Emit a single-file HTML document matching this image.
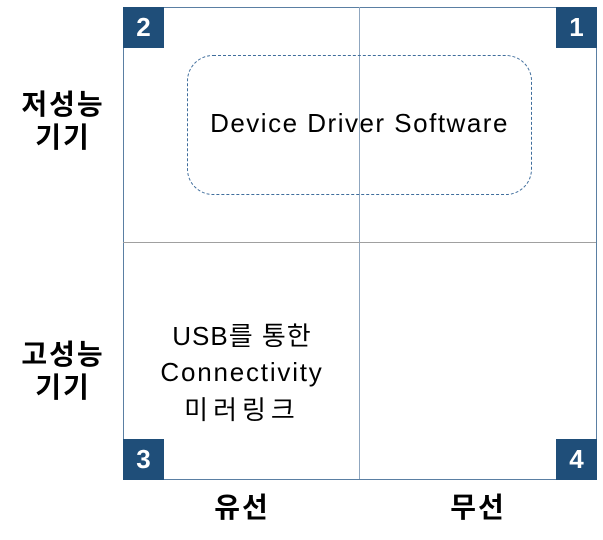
<!DOCTYPE html>
<html><head><meta charset="utf-8"><style>
body{margin:0;width:603px;height:540px;background:#fff;position:relative;overflow:hidden;font-family:"Liberation Sans","Noto Sans CJK KR",sans-serif}
.a{position:absolute}
.b{position:absolute;width:41px;height:41px;background:#1f4e79;color:#fff;font-weight:bold;font-size:26px;line-height:41px;text-align:center}
.t{position:absolute;font-size:26px;color:#000;text-align:center;white-space:nowrap}
.L{position:absolute;font-size:28px;font-weight:bold;text-align:center;line-height:33px;width:100px;letter-spacing:2px}
</style></head><body>
<div class="a" style="left:123px;top:7px;width:472px;height:471px;border:1px solid #5a7fa3"></div>
<div class="a" style="left:359px;top:7px;width:1px;height:472px;background:#8fa6bf"></div>
<div class="a" style="left:123px;top:242px;width:473px;height:1px;background:#a0a0a0"></div>
<div class="a" style="left:187px;top:55px;width:343px;height:138px;border:1px dashed #3f6d9c;border-radius:26px"></div>
<div class="t" style="left:187px;width:345px;top:106px;line-height:34px;letter-spacing:1.5px">Device Driver Software</div>
<div class="t" style="left:122px;width:240px;top:318px;line-height:36px"><span style="letter-spacing:1px">USB를 통한</span><br><span style="letter-spacing:1.8px">Connectivity</span><br><span style="line-height:40px;letter-spacing:5px">미러링크</span></div>
<div class="b" style="left:123px;top:7px">2</div>
<div class="b" style="left:556px;top:7px">1</div>
<div class="b" style="left:123px;top:439px">3</div>
<div class="b" style="left:556px;top:439px">4</div>
<div class="L" style="left:13px;top:88px">저성능<br>기기</div>
<div class="L" style="left:13px;top:338px">고성능<br>기기</div>
<div class="L" style="left:192px;top:491px">유선</div>
<div class="L" style="left:428px;top:491px">무선</div>
</body></html>
